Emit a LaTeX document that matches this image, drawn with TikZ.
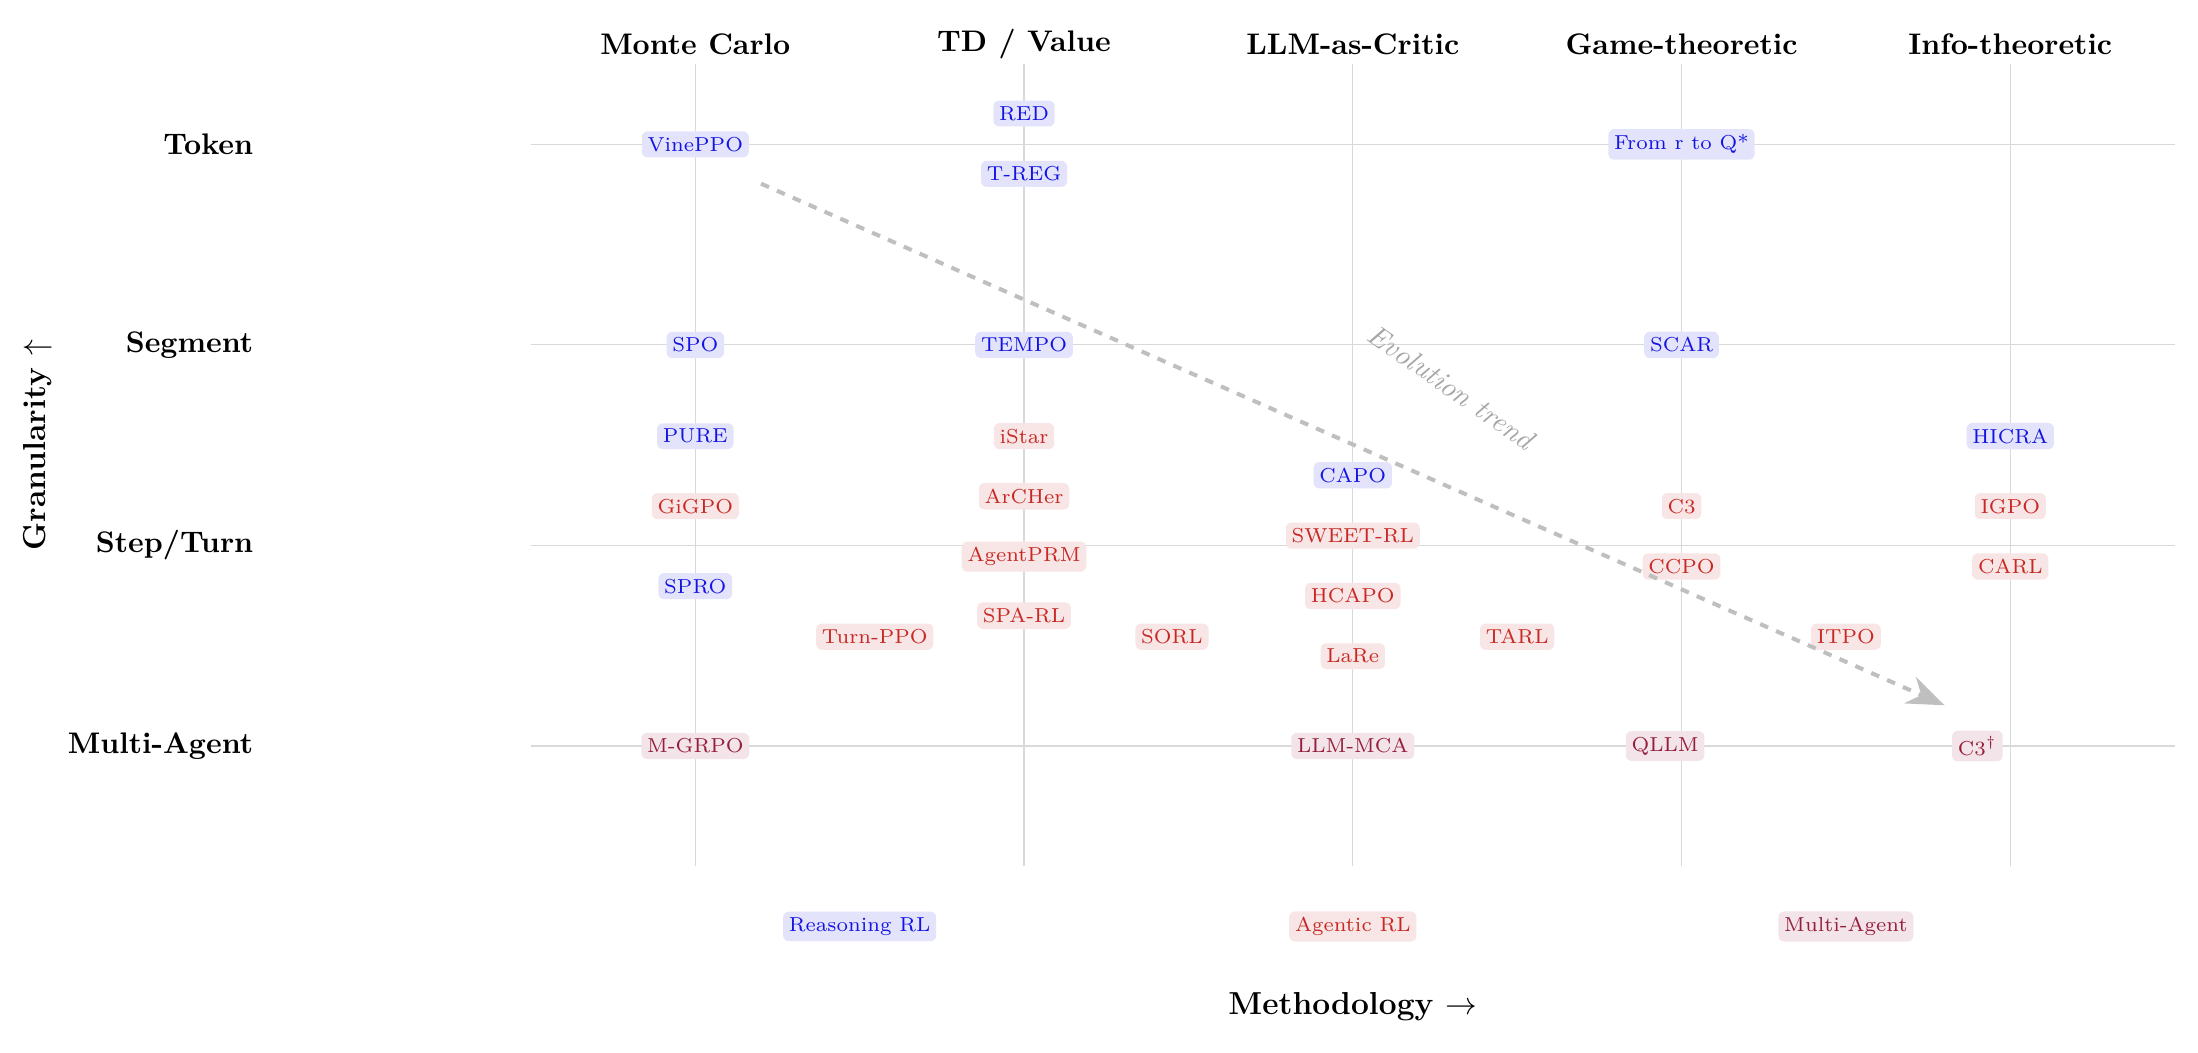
\documentclass[tikz,border=0pt]{standalone}
\usepackage{tikz}
\usetikzlibrary{arrows.meta}
\definecolor{reason}{RGB}{20,20,225}
\definecolor{agent}{RGB}{200,40,35}
\definecolor{multi}{RGB}{150,30,60}

\begin{document}
\begin{tikzpicture}[x=4cm,y=2.44cm]
	\tikzstyle{gridline}=[draw=gray!30,line width=0.4pt]
	\tikzstyle{colhead}=[font=\fontsize{10.3}{12.4}\selectfont\bfseries]
	\tikzstyle{rowlabel}=[font=\fontsize{10.3}{12.4}\selectfont\bfseries,anchor=east]
	\tikzstyle{axislabel}=[font=\fontsize{11}{13.2}\selectfont\bfseries]
	\tikzstyle{reasonbox}=[fill=reason!12,text=reason,rounded corners=2pt,inner sep=2pt,font=\scriptsize]
	\tikzstyle{agentbox}=[fill=agent!12,text=agent,rounded corners=2pt,inner sep=2pt,font=\scriptsize]
	\tikzstyle{multibox}=[fill=multi!12,text=multi,rounded corners=2pt,inner sep=2pt,font=\scriptsize]
	\tikzstyle{trend}=[draw=gray!50,line width=1.4pt,dashed,-{Stealth[length=13pt,width=10pt]}]
	
	\useasboundingbox (-2.115,-1.528) rectangle (4.571,3.72);
	
	\draw[gridline] (-0.5,3) -- (4.5,3);
	\draw[gridline] (-0.5,2) -- (4.5,2);
	\draw[gridline] (-0.5,1) -- (4.5,1);
	\draw[gridline] (-0.5,0) -- (4.5,0);
	
	\draw[gridline] (0,-0.6) -- (0,3.4);
	\draw[gridline] (1,-0.6) -- (1,3.4);
	\draw[gridline] (2,-0.6) -- (2,3.4);
	\draw[gridline] (3,-0.6) -- (3,3.4);
	\draw[gridline] (4,-0.6) -- (4,3.4);
	
	\node[colhead](c1) at (0,3.5){Monte Carlo};
	\node[colhead](c2) at (1,3.5){TD / Value};
	\node[colhead](c3) at (2,3.5){LLM-as-Critic};
	\node[colhead](c4) at (3,3.5){Game-theoretic};
	\node[colhead](c5) at (4,3.5){Info-theoretic};
	
	\node[rowlabel](g1) at (-1.314,3){Token};
	\node[rowlabel](g2) at (-1.314,2){Segment};
	\node[rowlabel](g3) at (-1.314,1){Step/Turn};
	\node[rowlabel](g4) at (-1.314,0){Multi-Agent};
	
	\node[axislabel,rotate=90](gran) at (-2.0,1.5){Granularity $\uparrow$};
	\node[axislabel](meth) at (2,-1.3){Methodology $\rightarrow$};
	
	\node[reasonbox](r1) at (1,3.154){RED};
	\node[reasonbox](r2) at (0,3){VinePPO};
	\node[reasonbox](r3) at (1,2.853){T-REG};
	\node[reasonbox](r4) at (3,3){From r to Q*};
	\node[reasonbox](r5) at (0,2){SPO};
	\node[reasonbox](r6) at (1,2){TEMPO};
	\node[reasonbox](r7) at (3,2){SCAR};
	\node[reasonbox](r8) at (0,1.545){PURE};
	\node[reasonbox](r9) at (4,1.545){HICRA};
	\node[reasonbox](r10) at (2,1.35){CAPO};
	\node[reasonbox](r11) at (0,0.797){SPRO};
	
	\node[agentbox](a1) at (1,1.545){iStar};
	\node[agentbox](a2) at (0,1.196){GiGPO};
	\node[agentbox](a3) at (1,1.245){ArCHer};
	\node[agentbox](a4) at (3,1.196){C3};
	\node[agentbox](a5) at (4,1.196){IGPO};
	\node[agentbox](a6) at (2,1.049){SWEET-RL};
	\node[agentbox](a7) at (1,0.944){AgentPRM};
	\node[agentbox](a8) at (3,0.895){CCPO};
	\node[agentbox](a9) at (4,0.895){CARL};
	\node[agentbox](a10) at (2,0.748){HCAPO};
	\node[agentbox](a11) at (1,0.650){SPA-RL};
	\node[agentbox](a12) at (0.546,0.545){Turn-PPO};
	\node[agentbox](a13) at (1.45,0.545){SORL};
	\node[agentbox](a14) at (2.5,0.545){TARL};
	\node[agentbox](a15) at (3.5,0.545){ITPO};
	\node[agentbox](a16) at (2,0.448){LaRe};
	
	\node[multibox](m1) at (0,0){M-GRPO};
	\node[multibox](m2) at (2,0){LLM-MCA};
	\node[multibox](m3) at (2.95,0){QLLM};
	\node[multibox](m4) at (3.9,0){C3$^\dagger$};
	
	\node[reasonbox](k1) at (0.5,-0.9){Reasoning RL};
	\node[agentbox](k2) at (2,-0.9){Agentic RL};
	\node[multibox](k3) at (3.5,-0.9){Multi-Agent};
	
	\coordinate (t0) at (0.2,2.804);
	\coordinate (t1) at (3.8,0.203);
	\draw[trend] (t0) -- (t1);
	\node[text=gray!70,font=\itshape,rotate=-35](evo) at (2.30,1.79){Evolution trend};
\end{tikzpicture}
\end{document}
